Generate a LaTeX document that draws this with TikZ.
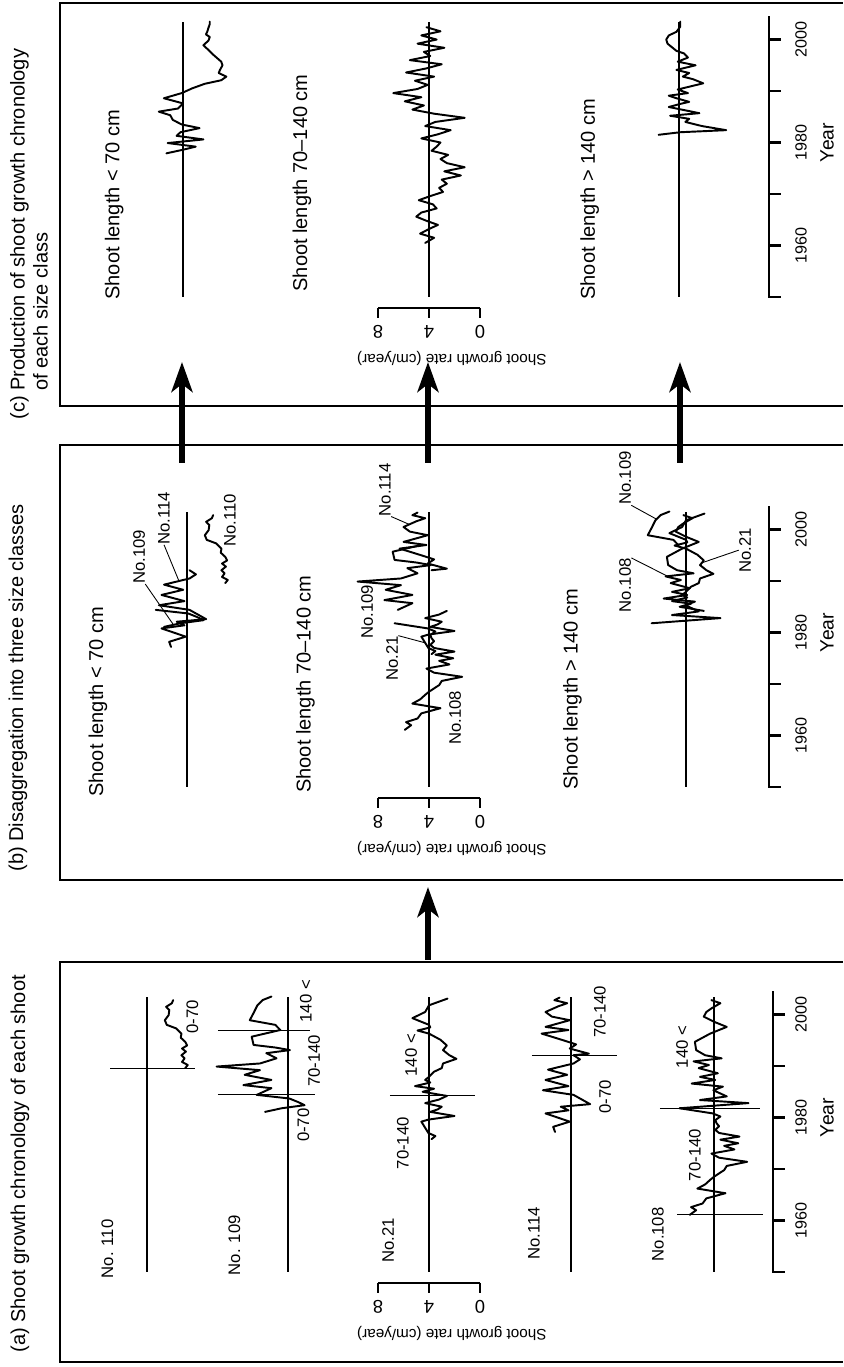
\documentclass[tikz,border=0pt]{standalone}
\usepackage{fontspec}
\setmainfont{Liberation Sans}
\usetikzlibrary{arrows.meta}

%%%%%%%%%% growth records : (years after 1950 , cm/year) %%%%%%%%%%
\def\pOneTen{(39.6,1.0) -- (40.2,0.8) -- (40.8,1.25) -- (41.5,1.05) -- (42.1,1.3) -- (42.8,0.95) -- (43.4,1.25) -- (44.0,0.85) -- (44.7,1.0) -- (45.5,1.35) -- (46.3,1.3) -- (47.3,1.7) -- (48.0,2.45) -- (48.9,2.6) -- (49.9,2.3) -- (50.9,2.25) -- (51.5,2.5) -- (52.2,2.05) -- (52.8,1.95)}
\def\pOneNineA{(31.1,5.8) -- (31.8,4.5) -- (32.4,2.7) -- (33.0,3.2) -- (33.7,3.9) -- (34.4,6.45)}
\def\pOneNineB{(34.4,6.45) -- (35.7,5.3) -- (36.3,7.5) -- (37.3,5.3) -- (38.3,7.4) -- (39.2,6.2) -- (39.9,9.6) -- (40.5,6.2) -- (41.5,4.9) -- (42.5,5.7) -- (43.1,3.85) -- (43.6,5.0) -- (44.1,6.7) -- (45.7,6.85) -- (47.0,4.6)}
\def\pOneNineC{(47.0,4.6) -- (48.0,5.0) -- (48.9,7.0) -- (50.3,6.7) -- (51.8,6.4) -- (52.8,6.0) -- (53.5,5.3)}
\def\pTwoOneA{(25.8,3.8) -- (26.4,3.5) -- (27.0,4.05) -- (29.2,4.6) -- (29.6,4.05) -- (30.3,2.0) -- (31.1,3.9) -- (31.6,3.3) -- (32.1,3.0) -- (32.8,4.3) -- (33.5,3.2) -- (34.2,2.6)}
\def\pTwoOneB{(34.2,2.6) -- (35.0,4.5) -- (35.6,3.6) -- (36.1,5.1) -- (36.8,3.9) -- (37.3,4.3) -- (37.9,4.0) -- (38.9,3.6) -- (39.6,3.0) -- (40.5,2.9) -- (41.4,1.85) -- (42.1,2.4) -- (43.1,2.9) -- (44.0,2.6) -- (45.1,3.1) -- (46.3,4.0) -- (46.9,4.9) -- (47.5,3.9) -- (48.0,4.0) -- (49.3,5.3) -- (50.5,4.3) -- (51.8,4.0) -- (53.1,2.55)}
\def\pOneFourA{(27.2,5.25) -- (28.2,5.4) -- (29.2,4.1) -- (30.8,6.0) -- (31.4,4.2) -- (32.1,4.8) -- (32.6,2.5) -- (34.4,3.8) -- (35.3,6.2) -- (36.1,4.2) -- (37.3,6.0) -- (38.3,4.3) -- (39.3,5.8) -- (40.5,3.8) -- (41.3,3.3) -- (42.1,3.8)}
\def\pOneFourB{(42.1,3.8) -- (42.4,2.6) -- (43.4,4.1) -- (44.2,3.6) -- (45.0,4.6) -- (46.3,6.3) -- (47.0,4.2) -- (47.6,6.0) -- (48.9,4.1) -- (49.6,5.5) -- (50.5,6.0) -- (51.6,5.0) -- (52.2,4.3) -- (52.8,5.3) -- (53.3,4.9)}
\def\pOneEightA{(11.1,5.9) -- (12.0,5.4) -- (12.6,5.8) -- (13.3,4.9) -- (14.3,4.6) -- (15.3,3.1) -- (16.2,5.3) -- (17.0,4.7) -- (17.9,4.3) -- (18.5,4.0) -- (19.8,3.2) -- (20.6,3.0) -- (21.4,1.4) -- (22.2,3.6) -- (23.0,4.2) -- (23.8,2.4) -- (24.5,3.2) -- (25.0,2.1) -- (25.7,3.5) -- (26.3,2.0) -- (27.0,3.6) -- (27.6,3.9) -- (28.3,3.6) -- (28.9,3.8) -- (29.5,3.9) -- (30.2,3.5) -- (30.8,4.1) -- (31.8,6.7)}
\def\pOneEightB{(31.8,6.7) -- (32.8,1.3) -- (33.4,5.1) -- (34.1,3.0) -- (35.3,4.05) -- (36.0,3.3) -- (36.6,5.75) -- (37.3,3.9) -- (37.9,5.1) -- (38.6,3.7) -- (39.6,5.2) -- (40.2,4.4) -- (40.9,5.6) -- (41.5,3.4) -- (42.1,4.7) -- (43.1,5.4) -- (44.7,5.5) -- (46.3,4.3) -- (47.6,3.0) -- (48.6,4.0) -- (49.6,4.8) -- (50.5,4.6) -- (51.2,4.2) -- (52.2,3.5) -- (52.8,4.2)}
\def\pcOne{(27.9,5.3) -- (28.6,4.0) -- (29.2,3.0) -- (29.9,5.2) -- (30.6,2.4) -- (31.3,4.5) -- (32.0,4.2) -- (32.8,2.7) -- (33.5,4.1) -- (34.4,4.8) -- (35.3,5.0) -- (36.0,5.9) -- (36.6,4.4) -- (37.6,4.0) -- (38.6,5.5) -- (39.6,4.1) -- (40.5,3.3) -- (41.4,2.3) -- (42.1,1.0) -- (42.8,0.6) -- (43.5,1.2) -- (44.1,1.1) -- (45.0,0.9) -- (45.7,1.0) -- (47.0,1.6) -- (48.2,2.1) -- (48.9,2.4) -- (49.8,2.0) -- (50.5,1.9) -- (51.0,2.2) -- (51.5,2.1) -- (52.3,2.0) -- (53.0,1.9) -- (53.5,1.9)}
\def\pcTwo{(10.5,4.3) -- (11.5,3.6) -- (12.3,4.7) -- (13.2,4.0) -- (14.0,3.3) -- (14.8,4.2) -- (15.6,5.0) -- (16.4,4.6) -- (17.2,3.4) -- (18.0,3.7) -- (18.8,4.8) -- (19.6,3.9) -- (20.4,2.9) -- (21.2,3.2) -- (22.0,2.6) -- (22.8,3.0) -- (23.6,1.5) -- (24.4,2.8) -- (25.2,1.2) -- (26.0,2.6) -- (26.8,3.1) -- (27.6,2.5) -- (28.4,3.8) -- (29.2,3.4) -- (30.0,3.1) -- (30.8,4.6) -- (31.6,3.3) -- (32.4,2.3) -- (33.2,4.3) -- (34.0,3.5) -- (34.8,1.2) -- (35.6,3.6) -- (36.4,5.3) -- (37.2,4.4) -- (38.0,5.9) -- (38.8,4.6) -- (39.6,6.8) -- (40.4,4.9) -- (41.2,4.1) -- (42.0,5.1) -- (42.8,3.6) -- (43.6,5.8) -- (44.4,4.2) -- (45.2,3.0) -- (46.0,5.5) -- (46.8,3.9) -- (47.6,4.4) -- (48.4,2.8) -- (49.2,4.9) -- (50.0,3.4) -- (50.8,4.6) -- (51.6,3.1) -- (52.4,4.2)}
\def\pcThree{(31.5,5.6) -- (32.0,3.9) -- (32.4,0.3) -- (33.2,2.2) -- (34.0,3.5) -- (34.6,3.2) -- (35.2,4.7) -- (35.7,2.4) -- (36.3,3.6) -- (36.9,4.8) -- (37.5,3.9) -- (37.9,3.2) -- (38.6,4.2) -- (39.1,4.8) -- (39.6,3.3) -- (40.3,4.1) -- (41.5,2.1) -- (42.3,2.9) -- (42.8,3.7) -- (43.5,3.2) -- (44.1,4.2) -- (45.0,2.7) -- (45.7,4.1) -- (46.5,3.3) -- (47.3,3.6) -- (47.8,4.2) -- (48.4,4.5) -- (49.2,4.9) -- (50.0,5.0) -- (50.8,4.8) -- (51.5,4.2) -- (52.5,3.9) -- (53.5,3.9)}

\tikzset{
  panelframe/.style={line width=1.1pt},
  meanline/.style={line width=0.95pt},
  timeaxis/.style={line width=1.3pt},
  series/.style={line width=1.1pt, line join=round, line cap=round},
  classcut/.style={line width=0.5pt},
  leader/.style={line width=0.5pt},
  flow/.style={line width=3.2pt, -{Stealth[length=6mm,width=4.2mm,inset=1.6mm]}},
  paneltitle/.style={font=\fontsize{11.4}{13.1}\selectfont, inner sep=0pt, anchor=west},
  head/.style={font=\fontsize{11.4}{13.1}\selectfont, inner sep=0pt, anchor=west},
  classtag/.style={font=\fontsize{9.5}{11}\selectfont, inner sep=0pt},
  shoot/.style={font=\fontsize{9.5}{11}\selectfont, inner sep=0pt},
  yearlab/.style={font=\fontsize{9.2}{10}\selectfont, inner sep=0pt},
  yearname/.style={font=\fontsize{11}{12}\selectfont, inner sep=0pt},
  ratelab/.style={font=\fontsize{10.5}{11}\selectfont, inner sep=0pt, rotate=90},
  ratename/.style={font=\fontsize{8.7}{10}\selectfont, inner sep=0pt, rotate=90, anchor=west},
  chart/.style 2 args={shift={(#1,#2)}, x=0.103cm, y=0.255cm}
}

% year axis : #1 = position of 1950, #2 = height of the axis
\newcommand{\yearaxis}[2]{%
  \begin{scope}[shift={(#1,0)}, x=0.103cm]
    \draw[timeaxis] (54.5,#2) -- (0,#2) -- (0,#2-12);
    \foreach \t in {10,20,30,40,50} \draw[timeaxis] (\t,#2) -- (\t,#2-12);
    \foreach \t/\yr in {10/1960,30/1980,50/2000} \node[yearlab] (yr#1-\yr) at (\t,42) {\yr};
    \node[yearname] (year#1) at (30,16) {Year};
  \end{scope}}

% rate axis : #1 = position of 1950, #2 = height of rate 0
\newcommand{\rateaxis}[2]{%
  \begin{scope}[shift={(#1,#2)}, y=0.255cm]
    \draw[timeaxis] (-11,0) -- (-11,8);
    \foreach \r in {0,4,8} {
      \draw[timeaxis] (-11,\r) -- (-21,\r);
      \node[ratelab] (rate#1-\r) at (-35,\r) {\r};
    }
    \node[ratename] (ratename#1) at (-61,-5.25) {Shoot growth rate (cm/year)};
  \end{scope}}

\begin{document}
\begin{tikzpicture}[x=0.02cm, y=0.02cm, rotate=90, transform shape]
  \useasboundingbox (0,0) rectangle (1367,843);

  %%%%%%%%%% panel frames and titles %%%%%%%%%%
  \draw[panelframe] (5,0) |- (405,783) -- (405,0);
  \draw[panelframe] (487,0) |- (922,783) -- (922,0);
  \draw[panelframe] (961,0) |- (1364,783) -- (1364,0);

  \node[paneltitle] (ta) at (14,823) {(a) Shoot growth chronology of each shoot};
  \node[paneltitle] (tb) at (495,825) {(b) Disaggregation into three size classes};
  \node[paneltitle, align=left] (tc) at (947,814) {(c) Production of shoot growth chronology\\\hphantom{(c) }of each size class};

  %%%%%%%%%% arrows between panels %%%%%%%%%%
  \coordinate (ab) at (407,415);
  \coordinate (ba) at (480,415);
  \draw[flow] (ab) -- (ba);
  \foreach \w [count=\i] in {661,415,163} {
    \coordinate (bc\i) at (904,\w);
    \coordinate (cb\i) at (1005,\w);
    \draw[flow] (bc\i) -- (cb\i);
  }

  %%%%%%%%%% (a) each shoot %%%%%%%%%%
  % No. 110
  \begin{scope}[chart={95}{645}]
    \draw[meanline] (0,4) -- (53.5,4);
    \draw[series] \pOneTen;
    \draw[classcut] (39.6,6.9) -- (39.6,0.25);
    \node[shoot] (aOneTen) at (4.5,7.1) {No. 110};
    \node[classtag] (aOneTenK) at (49.5,0.45) {0-70};
  \end{scope}
  % No. 109
  \begin{scope}[chart={95}{504}]
    \draw[meanline] (0,4) -- (53.5,4);
    \draw[series] \pOneNineA;
    \draw[series] \pOneNineB;
    \draw[series] \pOneNineC;
    \draw[classcut] (34.4,9.5) -- (34.4,1.9);
    \draw[classcut] (47.0,9.5) -- (47.0,2.3);
    \node[shoot] (aOneNine) at (5.2,8.2) {No. 109};
    \node[classtag] (aOneNineK) at (28.5,2.8) {0-70};
    \node[classtag] (aOneNineL) at (41.0,1.96) {70-140};
    \node[classtag] (aOneNineM) at (52.6,2.6) {140 <};
  \end{scope}
  % No. 21
  \begin{scope}[chart={95}{363}]
    \draw[meanline] (0,4) -- (53.5,4);
    \draw[series] \pTwoOneA;
    \draw[series] \pTwoOneB;
    \draw[classcut] (34.2,7.06) -- (34.2,0.4);
    \node[shoot] (aTwoOne) at (6.2,7.2) {No.21};
    \node[classtag] (aTwoOneL) at (25.0,6.04) {70-140};
    \node[classtag] (aTwoOneM) at (42.1,5.4) {140 <};
  \end{scope}
  % No. 114
  \begin{scope}[chart={95}{221}]
    \draw[meanline] (0,4) -- (53.5,4);
    \draw[series] \pOneFourA;
    \draw[series] \pOneFourB;
    \draw[classcut] (42.1,7.06) -- (42.1,0.4);
    \node[shoot] (aOneFour) at (7.5,6.9) {No.114};
    \node[classtag] (aOneFourK) at (34.0,1.33) {0-70};
    \node[classtag] (aOneFourL) at (50.5,1.73) {70-140};
  \end{scope}
  % No. 108
  \begin{scope}[chart={95}{78}]
    \draw[meanline] (0,4) -- (53.5,4);
    \draw[series] \pOneEightA;
    \draw[series] \pOneEightB;
    \draw[classcut] (11.1,6.9) -- (11.1,0.16);
    \draw[classcut] (31.8,8.24) -- (31.8,0.4);
    \node[shoot] (aOneEight) at (7.3,8.4) {No.108};
    \node[classtag] (aOneEightL) at (22.7,5.5) {70-140};
    \node[classtag] (aOneEightM) at (43.7,6.5) {140 <};
  \end{scope}
  \rateaxis{95}{363}
  \yearaxis{95}{70}

  %%%%%%%%%% (b) three size classes %%%%%%%%%%
  \begin{scope}[chart={580}{605}]
    \draw[meanline] (0,4) -- (53.5,4);
    \draw[series] \pOneFourA;
    \draw[series] \pOneNineA;
    \draw[series] \pOneTen;
    \node[head] (hbOne) at (-1.94,10.98) {Shoot length < 70 cm};
    \node[classtag] (bOneNine) at (44.7,7.76) {No.109};
    \node[classtag] (bOneFour) at (52.2,5.8) {No.114};
    \node[classtag] (bOneTen) at (51.8,0.63) {No.110};
    \coordinate (bOneNineEnd) at (31.5,5.06);
    \coordinate (bOneFourEnd) at (40.0,4.63);
    \draw[leader] (bOneNine.south west) -- (bOneNineEnd);
    \draw[leader] (bOneFour.west) -- (bOneFourEnd);
  \end{scope}
  \begin{scope}[chart={580}{363}]
    \draw[meanline] (0,4) -- (53.5,4);
    \draw[series] \pOneEightA;
    \draw[series] \pTwoOneA;
    \draw[series] \pOneNineB;
    \draw[series] \pOneFourB;
    \node[head] (hbTwo) at (-1.17,13.7) {Shoot length 70--140 cm};
    \node[classtag] (bTwoFour) at (57.7,7.45) {No.114};
    \node[classtag] (bTwoNine) at (34.0,8.86) {No.109};
    \node[classtag] (bTwoOne) at (25.0,6.9) {No.21};
    \node[classtag] (bTwoEight) at (13.4,1.96) {No.108};
    \coordinate (bTwoFourEnd) at (51.0,5.55);
    \coordinate (bTwoOneEnd) at (28.0,4.3);
    \draw[leader] (bTwoFour.south west) -- (bTwoFourEnd);
    \draw[leader] (bTwoOne.south east) -- (bTwoOneEnd);
  \end{scope}
  \begin{scope}[chart={580}{106}]
    \draw[meanline] (0,4) -- (53.5,4);
    \draw[series] \pTwoOneB;
    \draw[series] \pOneEightB;
    \draw[series] \pOneNineC;
    \node[head] (hbThree) at (-0.58,12.9) {Shoot length > 140 cm};
    \node[classtag] (bThreeNine) at (60.0,8.78) {No.109};
    \node[classtag] (bThreeEight) at (39.2,8.78) {No.108};
    \node[classtag] (bThreeOne) at (46.0,-0.63) {No.21};
    \coordinate (bThreeNineEnd) at (52.0,6.3);
    \coordinate (bThreeEightEnd) at (41.0,5.5);
    \coordinate (bThreeOneEnd) at (43.5,2.8);
    \draw[leader] (bThreeNine.south west) -- (bThreeNineEnd);
    \draw[leader] (bThreeEight.south east) -- (bThreeEightEnd);
    \draw[leader] (bThreeOne.north) -- (bThreeOneEnd);
  \end{scope}
  \rateaxis{580}{363}
  \yearaxis{580}{74}

  %%%%%%%%%% (c) chronology of each size class %%%%%%%%%%
  \begin{scope}[chart={1070}{609}]
    \draw[meanline] (0,4) -- (53.5,4);
    \draw[series] \pcOne;
    \node[head] (hcOne) at (-0.58,9.4) {Shoot length < 70 cm};
  \end{scope}
  \begin{scope}[chart={1070}{363}]
    \draw[meanline] (0,4) -- (53.5,4);
    \draw[series] \pcTwo;
    \node[head] (hcTwo) at (1.0,13.96) {Shoot length 70--140 cm};
  \end{scope}
  \begin{scope}[chart={1070}{113}]
    \draw[meanline] (0,4) -- (53.5,4);
    \draw[series] \pcThree;
    \node[head] (hcThree) at (-0.58,11.0) {Shoot length > 140 cm};
  \end{scope}
  \rateaxis{1070}{363}
  \yearaxis{1070}{74}

\end{tikzpicture}
\end{document}
